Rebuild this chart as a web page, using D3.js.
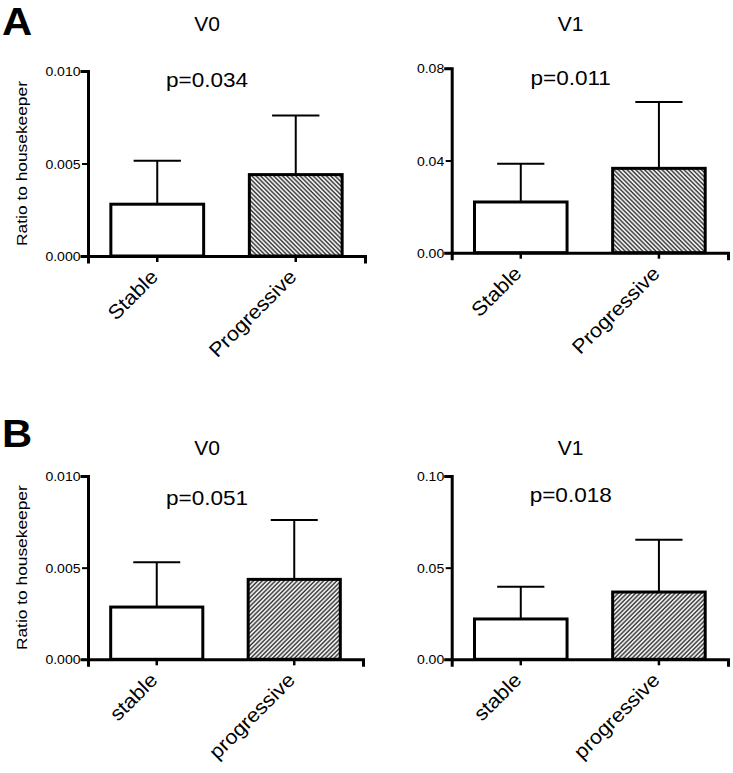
<!DOCTYPE html>
<html><head><meta charset="utf-8">
<script src="https://cdn.jsdelivr.net/npm/d3@7"></script>
<style>
html,body{margin:0;padding:0;background:#fff;}
text{font-family:"Liberation Sans",Arial,sans-serif;fill:#000;}
</style></head>
<body>
<svg id="chart" width="733" height="773"></svg>
<script>
// ---- data ----
const panelLetters = ["A", "B"];
const titles = ["V0", "V1"];
const catsA = ["Stable", "Progressive"];
const catsB = ["stable", "progressive"];
const pValuesA = ["p=0.034", "p=0.011"];
const pValuesB = ["p=0.051", "p=0.018"];
const yLabel = "Ratio to housekeeper";
// means
const meanA_V0 = [0.0028, 0.0044];
const meanA_V1 = [0.022, 0.0366];
const meanB_V0 = [0.00285, 0.00436];
const meanB_V1 = [0.022, 0.0367];
// SD (upper whisker length)
const sdA_V0 = [0.00235, 0.0032];
const sdA_V1 = [0.0166, 0.0288];
const sdB_V0 = [0.00244, 0.00324];
const sdB_V1 = [0.0176, 0.0285];
// y ticks
const ticksV0 = [0, 0.005, 0.010];
const ticksA_V1 = [0, 0.04, 0.08];
const ticksB_V1 = [0, 0.05, 0.10];

const svg = d3.select("#chart");

const defs = svg.append("defs");
function hatch(id, angle){
  const s = 3.1;
  const p = defs.append("pattern").attr("id", id)
    .attr("patternUnits","userSpaceOnUse").attr("width",s).attr("height",s)
    .attr("patternTransform",`rotate(${angle})`);
  p.append("rect").attr("width",s).attr("height",s).attr("fill","#fff");
  p.append("line").attr("x1",1).attr("y1",-1).attr("x2",1).attr("y2",s+1)
    .attr("stroke","#333").attr("stroke-width",1.5);
}
hatch("hatchA", -45);
hatch("hatchB", 45);

function txt(parent, str, x, y, o){
  o = Object.assign({size:12, anchor:"start", rotate:0, sx:1.1, weight:"normal"}, o||{});
  return parent.append("text")
    .attr("transform",`translate(${x},${y}) rotate(${o.rotate}) scale(${o.sx},1)`)
    .attr("text-anchor", o.anchor)
    .style("font-size", o.size+"px")
    .style("font-weight", o.weight)
    .text(str);
}

const panels = [
  {left:88, right:365, y0:256, yTop:71, max:0.010, ticks:ticksV0, fmt:".3f", means:meanA_V0, sds:sdA_V0, cats:catsA, title:titles[0], p:pValuesA[0], titleY:31, pY:86.5, hatch:"hatchA", ylab:true},
  {left:451.7, right:728, y0:252.7, yTop:68.3, max:0.08, ticks:ticksA_V1, fmt:".2f", means:meanA_V1, sds:sdA_V1, cats:catsA, title:titles[1], p:pValuesA[1], titleY:31, pY:85, hatch:"hatchA", ylab:false},
  {left:88, right:363, y0:659.3, yTop:476, max:0.010, ticks:ticksV0, fmt:".3f", means:meanB_V0, sds:sdB_V0, cats:catsB, title:titles[0], p:pValuesB[0], titleY:455, pY:505, hatch:"hatchB", ylab:true},
  {left:451.7, right:728, y0:659.3, yTop:476, max:0.10, ticks:ticksB_V1, fmt:".2f", means:meanB_V1, sds:sdB_V1, cats:catsB, title:titles[1], p:pValuesB[1], titleY:454.5, pY:502, hatch:"hatchB", ylab:false}
];

panels.forEach(P => {
  const g = svg.append("g");
  const y = d3.scaleLinear().domain([0, P.max]).range([P.y0, P.yTop]);
  const x = d3.scaleBand().domain(P.cats).range([P.left, P.right]).paddingInner(0.33).paddingOuter(0.165);
  const bw = x.bandwidth();
  const data = P.cats.map((c,i)=>({c, m:P.means[i], sd:P.sds[i], i}));

  // error bars
  const eb = g.append("g").attr("stroke","#000").attr("stroke-width",2).attr("fill","none");
  data.forEach(d=>{
    const cx = x(d.c)+bw/2;
    eb.append("line").attr("x1",cx).attr("x2",cx).attr("y1",y(d.m)).attr("y2",y(d.m+d.sd));
    eb.append("line").attr("x1",cx-bw*0.255).attr("x2",cx+bw*0.255).attr("y1",y(d.m+d.sd)).attr("y2",y(d.m+d.sd));
  });
  // bars
  g.selectAll("rect.bar").data(data).enter().append("rect")
    .attr("x", d=>x(d.c)).attr("width", bw)
    .attr("y", d=>y(d.m)).attr("height", d=>P.y0 - y(d.m))
    .attr("fill", d=> d.i===0 ? "#fff" : `url(#${P.hatch})`)
    .attr("stroke","#000").attr("stroke-width",3);

  // y axis
  const ya = g.append("g").attr("transform",`translate(${P.left},0)`)
    .call(d3.axisLeft(y).tickValues(P.ticks).tickFormat(d3.format(P.fmt)).tickSizeOuter(0).tickSize(6).tickPadding(2));
  ya.select(".domain").attr("stroke-width",3).attr("stroke-linecap","square");
  ya.selectAll(".tick line").attr("stroke-width",2);
  ya.selectAll(".tick text").style("font-size","13px").style("font-family","Liberation Sans, Arial, sans-serif")
    .attr("x", -7.5/1.08).attr("transform",`scale(1.08,1)`).attr("dy","0.36em").attr("fill","#000");

  // x axis
  const xa = g.append("g").attr("transform",`translate(0,${P.y0})`)
    .call(d3.axisBottom(x).tickSizeOuter(0).tickSize(6).tickFormat(""));
  xa.select(".domain").attr("stroke-width",3).attr("stroke-linecap","square");
  xa.selectAll(".tick line").attr("stroke-width",2.5);

  // category labels
  P.cats.forEach(c=>{
    txt(g, c, x(c)+bw/2+2, P.y0+22, {size:20, anchor:"end", rotate:-45, sx:1.08});
  });

  // title & p
  txt(g, P.title, P.left+119, P.titleY, {size:19.5, anchor:"middle", sx:1.08});
  txt(g, P.p, P.left+119, P.pY, {size:20.5, anchor:"middle", sx:1.1});

  if (P.ylab){
    txt(g, yLabel, 26.5, (P.y0+P.yTop)/2, {size:15.5, anchor:"middle", rotate:-90, sx:1.12});
  }
});

txt(svg, panelLetters[0], 2, 35, {size:38, weight:"bold", sx:1.1});
txt(svg, panelLetters[1], 2, 447, {size:38, weight:"bold", sx:1.1});
</script>
</body></html>
